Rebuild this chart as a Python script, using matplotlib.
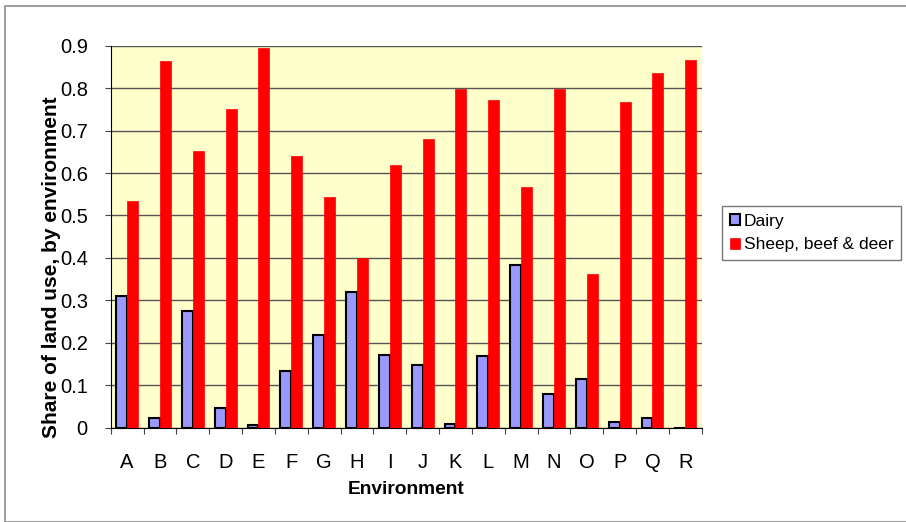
import numpy as np
import matplotlib
matplotlib.use("Agg")
from matplotlib import pyplot as plt
from matplotlib.patches import Rectangle

plt.rcParams['font.family'] = ['Liberation Sans', 'DejaVu Sans']

# Data
environments = list("ABCDEFGHIJKLMNOPQR")
dairy = [0.310, 0.024, 0.275, 0.046, 0.006, 0.134, 0.219, 0.320, 0.171,
         0.147, 0.008, 0.168, 0.383, 0.080, 0.115, 0.013, 0.022, 0.0]
sheep_beef_deer = [0.533, 0.864, 0.652, 0.752, 0.895, 0.639, 0.543, 0.400, 0.620,
                   0.681, 0.798, 0.773, 0.566, 0.799, 0.363, 0.768, 0.835, 0.867]

W, H = 906, 522
fig = plt.figure(figsize=(W / 100, H / 100), dpi=100)

# outer chart border (Excel chart area)
fig.patches.append(Rectangle((5 / W, 0), 2, 1 - 6 / H, transform=fig.transFigure,
                             fill=False, edgecolor='#8c8c8c', linewidth=1.2))

ax = fig.add_axes([110.7 / W, (H - 427.7) / H, 591 / W, 382 / H])
ax.set_facecolor('#ffffcc')

x = np.arange(len(environments))
w = 0.333
ax.bar(x - w / 2, dairy, w, color='#9999ff', edgecolor='black', linewidth=1.5,
       label='Dairy', zorder=3)
ax.bar(x + w / 2, sheep_beef_deer, w, color='#ff0000', edgecolor='#ff0000',
       linewidth=0.5, label='Sheep, beef & deer', zorder=3)

ax.set_xlim(-0.5, len(environments) - 0.5)
ax.set_ylim(0, 0.9)
ax.set_yticks(np.arange(0, 0.91, 0.1))
ax.set_yticklabels(['0'] + ['%.1f' % v for v in np.arange(0.1, 0.91, 0.1)])
ax.yaxis.grid(True, color='#555555', linewidth=1.0, zorder=1)

# category labels between boundary ticks
ax.set_xticks(np.arange(-0.5, len(environments), 1.0))
ax.set_xticklabels([])
ax.set_xticks(x, minor=True)
ax.set_xticklabels(environments, minor=True, fontsize=14.5)
ax.tick_params(axis='x', which='minor', length=0, pad=18)
ax.tick_params(axis='x', which='major', length=4.5, width=0.8, color='#444444',
               direction='out')
ax.tick_params(axis='y', length=4.5, width=0.8, color='#444444', labelsize=14.5,
               pad=12)

for side in ['top', 'right']:
    ax.spines[side].set_visible(False)
ax.spines['left'].set_color('black')
ax.spines['bottom'].set_color('black')

ax.set_xlabel('Environment', fontsize=13.8, fontweight='bold', labelpad=6.5)
fig.text(52 / W, 1 - 267 / H, 'Share of land use, by environment', rotation=90,
         ha='center', va='center', fontsize=15, fontweight='bold')

leg = fig.legend(loc='upper left', bbox_to_anchor=(722 / W, 1 - 206 / H),
                 fontsize=12.5, frameon=True, fancybox=False,
                 handlelength=0.6, handleheight=0.6, handletextpad=0.2,
                 borderpad=0.45, labelspacing=0.5, borderaxespad=0)
leg.get_frame().set_edgecolor('#555555')
leg.get_frame().set_linewidth(1.0)

fig.savefig('out.png', dpi=100)
